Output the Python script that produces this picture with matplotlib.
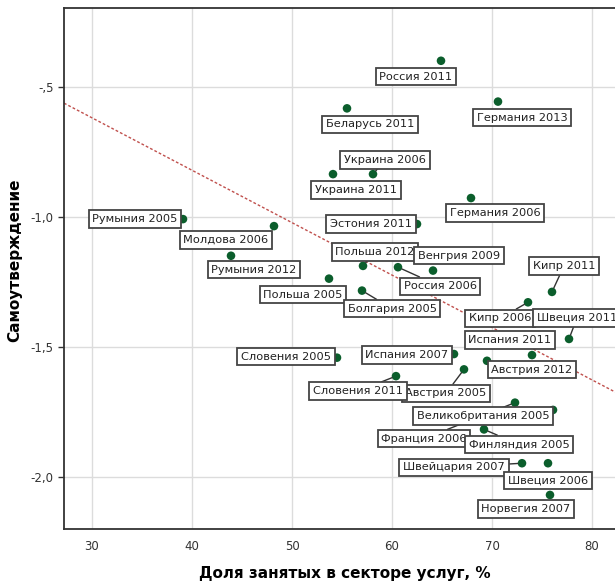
import numpy as np
import matplotlib
matplotlib.use("Agg")
import matplotlib.pyplot as plt
from matplotlib.ticker import FixedLocator

# ==============================================================================
# data: share of employment in services (%) vs. self-assertion score
labels = [
    "Россия 2011", "Германия 2013", "Беларусь 2011", "Украина 2006", "Украина 2011",
    "Германия 2006", "Румыния 2005", "Молдова 2006", "Эстония 2011", "Польша 2012",
    "Россия 2006", "Венгрия 2009", "Румыния 2012", "Польша 2005", "Болгария 2005",
    "Кипр 2011", "Кипр 2006", "Швеция 2011", "Испания 2007", "Испания 2011",
    "Словения 2005", "Австрия 2012", "Австрия 2005", "Словения 2011", "Франция 2006",
    "Великобритания 2005", "Финляндия 2005", "Швейцария 2007", "Швеция 2006", "Норвегия 2007",
]
services = [
    64.9, 70.6, 55.5, 58.1, 54.1,
    67.9, 39.1, 48.2, 62.5, 57.1,
    60.6, 64.1, 43.9, 53.7, 57.0,
    76.0, 73.6, 77.7, 66.2, 74.0,
    54.5, 69.5, 67.2, 60.4, 72.3,
    76.1, 69.2, 73.0, 75.6, 75.8,
]
self_assert = [
    -0.399, -0.556, -0.582, -0.835, -0.835,
    -0.927, -1.008, -1.035, -1.027, -1.188,
    -1.193, -1.206, -1.149, -1.237, -1.283,
    -1.288, -1.328, -1.469, -1.527, -1.531,
    -1.541, -1.553, -1.586, -1.612, -1.714,
    -1.742, -1.817, -1.947, -1.947, -2.069,
]
# fitted line (at the axis edges)
fit_x = [27.2, 83.5]
fit_y = [-0.562, -1.697]

xticks = [30, 40, 50, 60, 70, 80]
yticks = [-2.0, -1.5, -1.0, -0.5]
ytick_labels = ["-2,0", "-1,5", "-1,0", "-,5"]

# label layout: offset of box centre from the point (pixels, y down) and leader flag
label_dx = [-25, 24, 23, 12, 23, 24, -48, -48, -46, 12, 42, 26, 23, -26, 30,
            12, -28, 8, -47, -22, -51, 45, -18, -38, -91, -70, 35, -68, 0, -24]
label_dy = [16, 16, 16, -14, 16, 15, 0, 14, 0, -14, 19, -15, 14, 16, 18,
            -26, 16, -21, 1, -15, -1, 9, 24, 15, 36, 6, 15, 4, 17, 14]
leader = [0, 0, 0, 1, 0, 0, 0, 0, 0, 1, 1, 0, 0, 0, 1,
          1, 1, 1, 0, 0, 0, 0, 1, 1, 1, 0, 1, 1, 0, 0]

# ==============================================================================
fig = plt.figure(figsize=(6.15, 5.86), dpi=100)
ax = fig.add_axes([64 / 615, 1 - 529 / 586, (627 - 64) / 615, (529 - 8) / 586])

ax.set_xlim(27.2, 83.5)
ax.set_ylim(-2.2, -0.196)
ax.xaxis.set_major_locator(FixedLocator(xticks))
ax.yaxis.set_major_locator(FixedLocator(yticks))
ax.set_yticklabels(ytick_labels)
ax.grid(True, color="#dcdcdc", lw=1.0)
ax.set_axisbelow(True)
for s in ["top", "left", "bottom"]:
    ax.spines[s].set_color("#333333")
    ax.spines[s].set_linewidth(1.3)
ax.spines["right"].set_visible(False)
ax.tick_params(axis="both", colors="#333333", labelsize=8.5, length=4, width=1.0)
ax.tick_params(axis="x", length=0, pad=8)

ax.plot(fit_x, fit_y, color="#c0504d", lw=1.0, ls=(0, (2, 1.5)), zorder=2)
ax.scatter(services, self_assert, s=38, color="#0b5e2c", zorder=4, edgecolors="none")

for i, name in enumerate(labels):
    arrow = dict(arrowstyle="-", color="#333333", lw=1.0, shrinkA=0, shrinkB=3) if leader[i] else None
    ax.annotate(name, (services[i], self_assert[i]),
                xytext=(label_dx[i], -label_dy[i]), textcoords="offset pixels",
                ha="center", va="center", fontsize=8.2, color="#222222",
                bbox=dict(boxstyle="square,pad=0.32", fc="white", ec="#444444", lw=1.3),
                arrowprops=arrow, zorder=5)

ax.set_xlabel("Доля занятых в секторе услуг, %", fontsize=11, fontweight="bold")
ax.set_ylabel("Самоутверждение", fontsize=11, fontweight="bold")
ax.xaxis.set_label_coords((345 - 64) / (627 - 64), -(566 - 529) / (529 - 8))
ax.yaxis.set_label_coords(-(64 - 22) / (627 - 64), (529 - 260) / (529 - 8))

plt.savefig("out.png", dpi=100)
